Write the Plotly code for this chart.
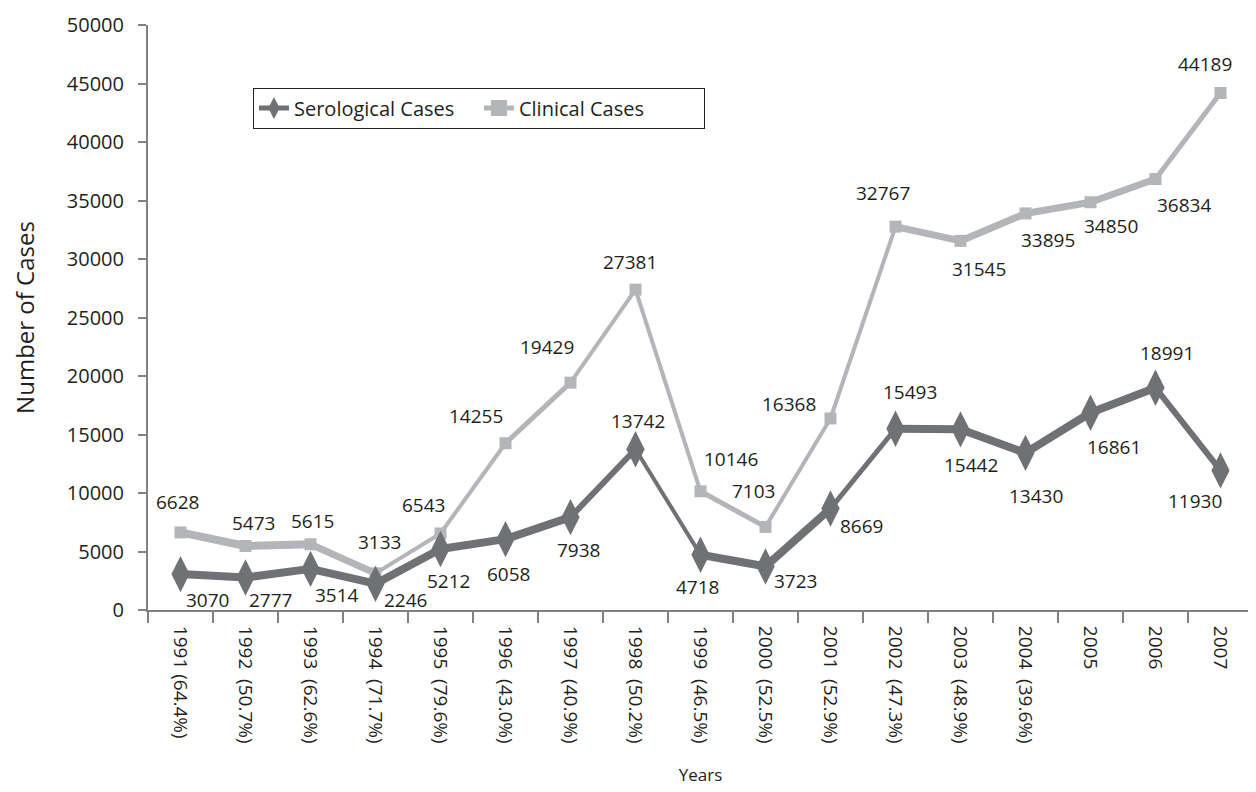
import plotly.graph_objects as go

# ---- data ----
years = ["1991", "1992", "1993", "1994", "1995", "1996", "1997", "1998", "1999",
         "2000", "2001", "2002", "2003", "2004", "2005", "2006", "2007"]
NB = "\u00a0"
tick_labels = ["1991 (64.4%)", "1992" + NB + " (50.7%)", "1993" + NB + " (62.6%)",
               "1994" + NB + " (71.7%)", "1995" + NB + " (79.6%)", "1996" + NB + " (43.0%)",
               "1997" + NB + " (40.9%)", "1998" + NB + " (50.2%)", "1999" + NB + " (46.5%)",
               "2000" + NB + " (52.5%)", "2001" + NB + " (52.9%)", "2002" + NB + " (47.3%)",
               "2003" + NB + " (48.9%)", "2004" + NB + " (39.6%)", "2005", "2006", "2007"]
serological = [3070, 2777, 3514, 2246, 5212, 6058, 7938, 13742, 4718, 3723, 8669,
               15493, 15442, 13430, 16861, 18991, 11930]
clinical = [6628, 5473, 5615, 3133, 6543, 14255, 19429, 27381, 10146, 7103, 16368,
            32767, 31545, 33895, 34850, 36834, 44189]

# ---- styles ----
SER_COLOR = "#707175"
CLI_COLOR = "#b4b5b8"
TEXT_COLOR = "#231f20"
AXIS_COLOR = "#808285"
FONT = "Open Sans"

ser_widths = [8, 8, 8, 8, 8, 8, 6, 4, 8, 8, 5, 8, 8, 8, 8, 6]
cli_widths = [8, 8, 7, 4, 4, 5, 4, 4, 5, 4, 4, 7, 7, 7, 7, 5]

cli_offsets = [(-3, -30), (8, -23), (2, -23), (4, -31), (-17, -28), (-30, -27), (-24, -36),
               (-6, -28), (30, -32), (-12, -36), (-42, -14), (-13, -34), (18, 28), (22, 27),
               (20, 24), (28, 26), (-16, -29)]
ser_offsets = [(27, 26), (25, 22), (26, 26), (30, 16), (8, 32), (3, 35), (8, 33), (2, -28),
               (-3, 32), (30, 15), (31, 17), (14, -37), (10, 36), (10, 43), (23, 34),
               (11, -35), (-26, 31)]

idx = list(range(len(years)))

fig = go.Figure()

# clinical line segments
for i in range(len(years) - 1):
    fig.add_trace(go.Scatter(
        x=[idx[i], idx[i + 1]], y=[clinical[i], clinical[i + 1]],
        mode="lines", line=dict(color=CLI_COLOR, width=cli_widths[i]),
        showlegend=False, hoverinfo="skip"))
fig.add_trace(go.Scatter(
    x=idx, y=clinical, mode="markers", customdata=years,
    marker=dict(symbol="square", size=12, color=CLI_COLOR),
    showlegend=False, name="Clinical Cases"))

# serological line segments
for i in range(len(years) - 1):
    fig.add_trace(go.Scatter(
        x=[idx[i], idx[i + 1]], y=[serological[i], serological[i + 1]],
        mode="lines", line=dict(color=SER_COLOR, width=ser_widths[i]),
        showlegend=False, hoverinfo="skip"))
fig.add_trace(go.Scatter(
    x=idx, y=serological, mode="markers", customdata=years,
    marker=dict(symbol="diamond-tall", size=26, color=SER_COLOR),
    showlegend=False, name="Serological Cases"))

# legend entries
fig.add_trace(go.Scatter(
    x=[None], y=[None], mode="lines+markers", name="Serological Cases",
    line=dict(color=SER_COLOR, width=5),
    marker=dict(symbol="diamond-tall", size=30, color=SER_COLOR), legendrank=1))
fig.add_trace(go.Scatter(
    x=[None], y=[None], mode="lines+markers", name="Clinical Cases",
    line=dict(color=CLI_COLOR, width=5),
    marker=dict(symbol="square", size=16, color=CLI_COLOR), legendrank=2))

annotations = []
for i in idx:
    dx, dy = cli_offsets[i]
    annotations.append(dict(x=i, y=clinical[i], text=str(clinical[i]), showarrow=False,
                            xshift=dx, yshift=-dy,
                            font=dict(family=FONT, size=19, color=TEXT_COLOR)))
    dx, dy = ser_offsets[i]
    annotations.append(dict(x=i, y=serological[i], text=str(serological[i]), showarrow=False,
                            xshift=dx, yshift=-dy,
                            font=dict(family=FONT, size=19, color=TEXT_COLOR)))

# boundary ticks between categories
bounds = [i - 0.5 for i in idx] + [idx[-1] + 0.5]

# page body has an 8px margin in the browser; compensate in figure size/margins
fig.update_layout(
    width=1248, height=784,
    margin=dict(l=140, r=3, t=14, b=182),
    paper_bgcolor="white", plot_bgcolor="white",
    font=dict(family=FONT, color=TEXT_COLOR),
    annotations=annotations,
    showlegend=True,
    legend=dict(
        orientation="h", x=0.095, y=0.893, xanchor="left", yanchor="top",
        bordercolor="#231f20", borderwidth=1, bgcolor="white",
        font=dict(family=FONT, size=20, color=TEXT_COLOR),
        itemsizing="trace", traceorder="normal", entrywidth=180),
    xaxis=dict(
        range=[-0.5, len(years) - 0.5],
        tickmode="array", tickvals=idx, ticktext=tick_labels,
        tickangle=90, ticks="",
        showline=True, linecolor=AXIS_COLOR, linewidth=2,
        showgrid=False, zeroline=False,
        tickfont=dict(family=FONT, size=19, color=TEXT_COLOR),
        ticklabelstandoff=10,
        title=dict(text="Years", font=dict(family=FONT, size=17, color=TEXT_COLOR),
                   standoff=26),
    ),
    xaxis2=dict(
        overlaying="x", matches="x", side="bottom",
        tickmode="array", tickvals=bounds, ticktext=["" for _ in bounds],
        ticks="outside", ticklen=12, tickwidth=2, tickcolor=AXIS_COLOR,
        showline=False, showgrid=False, zeroline=False, showticklabels=False,
    ),
    yaxis=dict(
        range=[0, 50000], tickmode="linear", tick0=0, dtick=5000, tickformat="d",
        ticks="outside", ticklen=8, tickwidth=2, tickcolor=AXIS_COLOR,
        showline=True, linecolor=AXIS_COLOR, linewidth=2,
        showgrid=False, zeroline=False,
        tickfont=dict(family=FONT, size=20, color=TEXT_COLOR),
        ticklabelstandoff=10,
        title=dict(text="Number of Cases", font=dict(family=FONT, size=24, color=TEXT_COLOR),
                   standoff=34),
    ),
)
# dummy trace so xaxis2 renders
fig.add_trace(go.Scatter(x=[None], y=[None], xaxis="x2", showlegend=False, hoverinfo="skip"))

fig.write_html("out.html")
